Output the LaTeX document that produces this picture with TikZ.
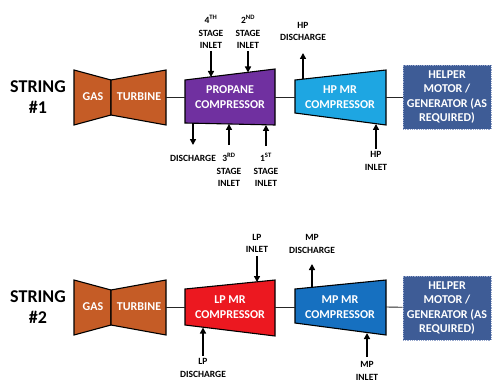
\documentclass[tikz,border=0pt]{standalone}
\usepackage{fontspec}
\setsansfont{Carlito}
\usepackage{tikz}
\usetikzlibrary{arrows.meta}
\definecolor{turbcol}{RGB}{197,92,38}
\definecolor{propcol}{RGB}{112,48,160}
\definecolor{hpcol}{RGB}{30,166,226}
\definecolor{lpcol}{RGB}{236,24,32}
\definecolor{mpcol}{RGB}{22,112,192}
\definecolor{helpcol}{RGB}{62,92,150}
\definecolor{helpedge}{RGB}{150,166,204}
\tikzset{
        machine/.style = {draw=black, line width=1.1pt, line join=miter},
        mach_t/.style = {machine, fill=turbcol},
        mach_p/.style = {machine, fill=propcol},
        mach_hp/.style = {machine, fill=hpcol},
        mach_lp/.style = {machine, fill=lpcol},
        mach_mp/.style = {machine, fill=mpcol},
        intext/.style = {align=center, inner sep=0pt, text=white,
            font=\sffamily\bfseries\fontsize{12}{14.5}\selectfont},
        lbl/.style = {align=center, inner sep=0pt, text=black,
            font=\sffamily\bfseries\fontsize{9.5}{12.5}\selectfont},
        strtitle/.style = {align=center, inner sep=0pt,
            font=\sffamily\bfseries\fontsize{18}{21}\selectfont},
        helper/.style = {intext, rectangle, fill=helpcol, draw=helpedge,
            densely dotted, line width=0.8pt, minimum width=88pt, minimum height=64pt},
        arr/.style = {-{Triangle[length=6pt,width=6pt]}, line width=1.6pt},
        shaft/.style = {draw=black!85, line width=0.9pt}
    }
\begin{document}
\begin{tikzpicture}[x=1pt,y=-1pt]
    \useasboundingbox (0,0) rectangle (494,382);
    % STRING 1
    \node [strtitle] (str1) at (38,97) {STRING\\\#1};
    \filldraw [mach_t] (74,70) -- (111,80) -- (111,115) -- (74,125) -- cycle;
    \filldraw [mach_t] (111,80) -- (166,70) -- (166,125) -- (111,115) -- cycle;
    \node [intext] (gas1) at (93,97) {GAS};
    \node [intext] (turb1) at (139,97) {TURBINE};
    \coordinate (t1e) at (166,97);
    \filldraw [mach_p] (185,80) -- (275,69) -- (275,125) -- (185,123) -- cycle;
    \node [intext] (prop) at (230,97) {PROPANE\\COMPRESSOR};
    \coordinate (propw) at (185,97);
    \coordinate (prope) at (275,97);
    \filldraw [mach_hp] (295,80) -- (386,70) -- (386,125) -- (295,113) -- cycle;
    \node [intext] (hpmr) at (340,97) {HP MR\\COMPRESSOR};
    \coordinate (hpw) at (295,97);
    \coordinate (hpe) at (386,97);
    \node [helper] (help1) at (447,97) {HELPER\\MOTOR /\\GENERATOR (AS\\REQUIRED)};
    \draw [shaft] (t1e) -- (propw);
    \draw [shaft] (prope) -- (hpw);
    \draw [shaft] (hpe) -- (help1);
    % propane side streams
    \node [lbl] (in4) at (211,32) {4\textsuperscript{TH}\\STAGE\\INLET};
    \coordinate (in4a) at (211,51);
    \coordinate (in4b) at (211,77);
    \draw [arr] (in4a) -- (in4b);
    \node [lbl] (in2) at (248,32) {2\textsuperscript{ND}\\STAGE\\INLET};
    \coordinate (in2a) at (248,51);
    \coordinate (in2b) at (248,72.5);
    \draw [arr] (in2a) -- (in2b);
    \node [lbl] (dis) at (193,158) {DISCHARGE};
    \coordinate (disa) at (193,123);
    \coordinate (disb) at (193,145);
    \draw [arr] (disa) -- (disb);
    \node [lbl] (in3) at (229,170) {3\textsuperscript{RD}\\STAGE\\INLET};
    \coordinate (in3a) at (229,145);
    \coordinate (in3b) at (229,124);
    \draw [arr] (in3a) -- (in3b);
    \node [lbl] (in1) at (266,170) {1\textsuperscript{ST}\\STAGE\\INLET};
    \coordinate (in1a) at (266,146);
    \coordinate (in1b) at (266,125);
    \draw [arr] (in1a) -- (in1b);
    % HP streams
    \node [lbl] (hpd) at (303,31.5) {HP\\DISCHARGE};
    \coordinate (hpda) at (303,79);
    \coordinate (hpdb) at (303,53);
    \draw [arr] (hpda) -- (hpdb);
    \node [lbl] (hpi) at (376,161) {HP\\INLET};
    \coordinate (hpia) at (376,149);
    \coordinate (hpib) at (376,124);
    \draw [arr] (hpia) -- (hpib);
    % STRING 2
    \node [strtitle] (str2) at (38,307) {STRING\\\#2};
    \filldraw [mach_t] (74,280) -- (111,290) -- (111,325) -- (74,335) -- cycle;
    \filldraw [mach_t] (111,290) -- (166,280) -- (166,335) -- (111,325) -- cycle;
    \node [intext] (gas2) at (93,307) {GAS};
    \node [intext] (turb2) at (139,307) {TURBINE};
    \coordinate (t2e) at (166,307);
    \filldraw [mach_lp] (185,289) -- (275,280) -- (275,336) -- (185,325) -- cycle;
    \node [intext] (lpmr) at (230,307) {LP MR\\COMPRESSOR};
    \coordinate (lpw) at (185,307);
    \coordinate (lpe) at (275,307);
    \filldraw [mach_mp] (295,289) -- (386,280) -- (386,335) -- (295,323) -- cycle;
    \node [intext] (mpmr) at (340,307) {MP MR\\COMPRESSOR};
    \coordinate (mpw) at (295,307);
    \coordinate (mpe) at (386,307);
    \node [helper] (help2) at (447,308) {HELPER\\MOTOR /\\GENERATOR (AS\\REQUIRED)};
    \draw [shaft] (t2e) -- (lpw);
    \draw [shaft] (lpe) -- (mpw);
    \draw [shaft] (mpe) -- (help2);
    % LP and MP streams
    \node [lbl] (lpi) at (257,243.5) {LP\\INLET};
    \coordinate (lpia) at (257,256);
    \coordinate (lpib) at (257,282);
    \draw [arr] (lpia) -- (lpib);
    \node [lbl] (lpd) at (203,368) {LP\\DISCHARGE};
    \coordinate (lpda) at (203,356);
    \coordinate (lpdb) at (203,327.5);
    \draw [arr] (lpda) -- (lpdb);
    \node [lbl] (mpd) at (312,244) {MP\\DISCHARGE};
    \coordinate (mpda) at (312,287.5);
    \coordinate (mpdb) at (312,264);
    \draw [arr] (mpda) -- (mpdb);
    \node [lbl] (mpi) at (367,371) {MP\\INLET};
    \coordinate (mpia) at (367,357);
    \coordinate (mpib) at (367,333);
    \draw [arr] (mpia) -- (mpib);
\end{tikzpicture}
\end{document}
